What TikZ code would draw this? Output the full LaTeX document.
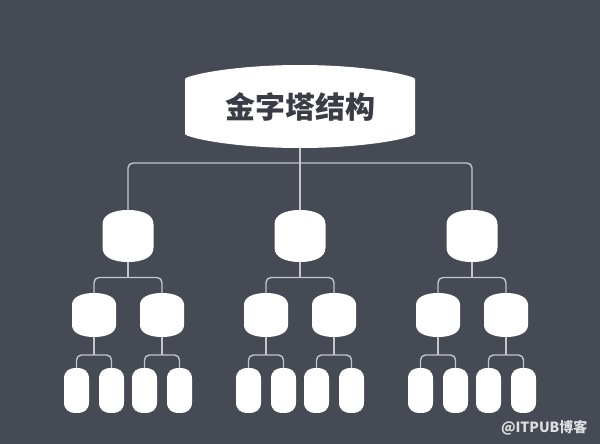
\documentclass[tikz,border=0pt]{standalone}
\usepackage{fontspec}
\usepackage{tikz}
\usetikzlibrary{calc}
\newfontfamily\cjk{Noto Sans CJK SC}
\definecolor{bgcolor}{RGB}{70,74,84}
\definecolor{linecolor}{RGB}{196,198,204}
\definecolor{titlecolor}{RGB}{58,61,69}
\definecolor{markcolor}{RGB}{222,222,224}

\begin{document}
\begin{tikzpicture}[
    x=1pt, y=-1pt,
    % #1 width, #2 height, #3 side cut, #4 corner control (fractions of height)
    pod/.style n args={4}{minimum width=#1, minimum height=#2, inner sep=0pt, outer sep=0pt,
        path picture={
            \fill[white] let \p1=(path picture bounding box.south west),
                             \p2=(path picture bounding box.north east),
                             \p3=($(\p1)!.5!(\p2)$),
                             \n1={#3*(\y2-\y1)}, \n2={#4*(\y2-\y1)}, \n4={0.3*(\x2-\x1)} in
                (\x1,\y1+\n1) -- (\x1,\y2-\n1)
                .. controls (\x1,\y2-\n2) and (\x3-\n4,\y2) .. (\x3,\y2)
                .. controls (\x3+\n4,\y2) and (\x2,\y2-\n2) .. (\x2,\y2-\n1)
                -- (\x2,\y1+\n1)
                .. controls (\x2,\y1+\n2) and (\x3+\n4,\y1) .. (\x3,\y1)
                .. controls (\x3-\n4,\y1) and (\x1,\y1+\n2) .. (\x1,\y1+\n1) -- cycle;
        }},
    rootbox/.style={pod={230pt}{83pt}{0.17}{0.13}, font=\cjk\bfseries\fontsize{30}{32}\selectfont, text=titlecolor},
    midbox/.style={pod={51pt}{52pt}{0.27}{0.1}},
    subbox/.style={pod={44pt}{44pt}{0.27}{0.1}},
    leafbox/.style={pod={25pt}{45pt}{0.25}{0.06}},
    link/.style={draw=linecolor, line width=1.4pt, rounded corners=5pt}
]
\fill[bgcolor] (0,0) rectangle (600,444);

\node[rootbox] (root) at (300,106.5) {金字塔结构};

\node[midbox] (s1) at (128,236) {};
\node[midbox] (s2) at (300,236) {};
\node[midbox] (s3) at (472,236) {};

\node[subbox] (s1-a) at (94,315) {};
\node[subbox] (s1-b) at (162,315) {};
\node[subbox] (s2-a) at (266,315) {};
\node[subbox] (s2-b) at (334,315) {};
\node[subbox] (s3-a) at (438,315) {};
\node[subbox] (s3-b) at (506,315) {};

\node[leafbox] (s1-a-1) at (76.5,390.5) {};
\node[leafbox] (s1-a-2) at (111.5,390.5) {};
\node[leafbox] (s1-b-1) at (144.5,390.5) {};
\node[leafbox] (s1-b-2) at (179.5,390.5) {};
\node[leafbox] (s2-a-1) at (248.5,390.5) {};
\node[leafbox] (s2-a-2) at (283.5,390.5) {};
\node[leafbox] (s2-b-1) at (316.5,390.5) {};
\node[leafbox] (s2-b-2) at (351.5,390.5) {};
\node[leafbox] (s3-a-1) at (420.5,390.5) {};
\node[leafbox] (s3-a-2) at (455.5,390.5) {};
\node[leafbox] (s3-b-1) at (488.5,390.5) {};
\node[leafbox] (s3-b-2) at (523.5,390.5) {};

\node[font=\cjk\bfseries\fontsize{14}{16}\selectfont, text=markcolor, anchor=east] (mark) at (591,428) {@ITPUB博客};

% root -> first level
\coordinate (bus) at (300,163);
\draw[link] (root.south) -- (s2.north);
\draw[link] (s1.north) |- (bus) -| (s3.north);

% first level -> second level
\foreach \p in {s1,s2,s3}{
    \draw[link] (\p.south) -- ($(\p.south)!.5!(\p.south |- \p-a.north)$) coordinate (\p-bus);
    \draw[link] (\p-a.north) |- (\p-bus) -| (\p-b.north);
}

% second level -> leaves
\foreach \p in {s1-a,s1-b,s2-a,s2-b,s3-a,s3-b}{
    \draw[link] (\p.south) -- ($(\p.south)!.58!(\p.south |- \p-1.north)$) coordinate (\p-bus);
    \draw[link] (\p-1.north) |- (\p-bus) -| (\p-2.north);
}
\end{tikzpicture}
\end{document}
